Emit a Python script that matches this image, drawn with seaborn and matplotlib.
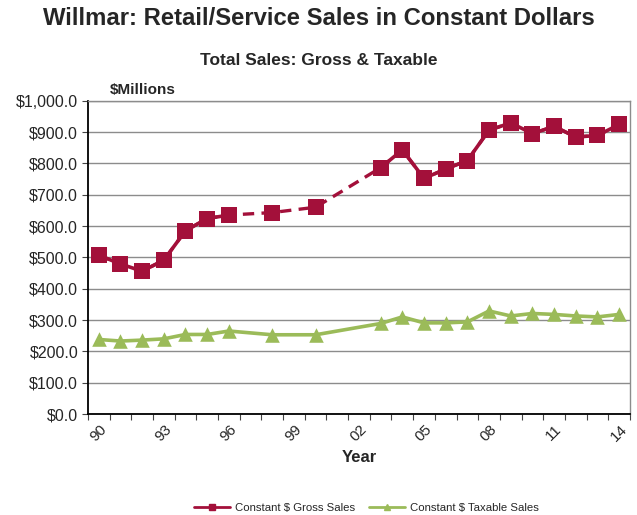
import numpy as np
import pandas as pd
import matplotlib
matplotlib.use("Agg")
import matplotlib.pyplot as plt
from matplotlib.ticker import FixedLocator, FuncFormatter
from matplotlib.lines import Line2D
import seaborn as sns

# Willmar retail/service sales in constant dollars ($ millions)
years = list(range(1990, 2015))
gross_sales = [507, 479, 456, 491, 585, 624, 635, np.nan, 643, np.nan, 660,
               np.nan, np.nan, 786, 843, 752, 782, 809, 906, 929, 895, 918,
               884, 889, 924]
taxable_sales = [238, 233, 236, 240, 254, 254, 265, np.nan, 253, np.nan, 253,
                 np.nan, np.nan, 289, 310, 291, 291, 294, 329, 313, 321, 318,
                 313, 310, 318]
tick_years = [1990, 1993, 1996, 1999, 2002, 2005, 2008, 2011, 2014]
tick_labels = ["90", "93", "96", "99", "02", "05", "08", "11", "14"]
series_names = ["Constant $ Gross Sales", "Constant $ Taxable Sales"]

GROSS_COLOR = "#A3103A"
TAX_COLOR = "#9BBB59"

sns.set_theme(style="white")
plt.rcParams["font.family"] = ["Liberation Sans", "DejaVu Sans"]

df = pd.DataFrame({"year": years, "gross": gross_sales, "taxable": taxable_sales})

fig = plt.figure(figsize=(6.37, 5.15), dpi=100)
ax = fig.add_axes([0.138, 0.196, 0.851, 0.6085])


def runs(frame, col):
    """Split a series into contiguous stretches of reported years."""
    valid = frame[col].notna()
    group = (valid != valid.shift()).cumsum()
    return [g for _, g in frame[valid].groupby(group[valid])]


observed = df.dropna(subset=["gross"])

# gross sales: dashed across years without data, solid where data is continuous
sns.lineplot(data=observed, x="year", y="gross", ax=ax, color=GROSS_COLOR,
             linewidth=2.4, linestyle=(0, (3.4, 2.2)), legend=False)
for seg in runs(df, "gross"):
    sns.lineplot(data=seg, x="year", y="gross", ax=ax, color=GROSS_COLOR,
                 linewidth=2.6, legend=False)
sns.scatterplot(data=observed, x="year", y="gross", ax=ax, color=GROSS_COLOR,
                marker="s", s=125, linewidth=0, zorder=4, legend=False)

# taxable sales: solid throughout
obs_tax = df.dropna(subset=["taxable"])
sns.lineplot(data=obs_tax, x="year", y="taxable", ax=ax, color=TAX_COLOR,
             linewidth=2.6, legend=False)
sns.scatterplot(data=obs_tax, x="year", y="taxable", ax=ax, color=TAX_COLOR,
                marker="^", s=110, linewidth=0, zorder=4, legend=False)

ax.set_xlim(1989.5, 2014.5)
ax.set_ylim(0, 1000)
ax.set_yticks(np.arange(0, 1001, 100))
ax.yaxis.set_major_formatter(FuncFormatter(lambda v, _: f"${v:,.1f}"))
ax.grid(axis="y", color="#8C8C8C", linewidth=1.0)
ax.set_axisbelow(True)

ax.xaxis.set_major_locator(FixedLocator(tick_years))
ax.set_xticklabels(tick_labels, rotation=45, ha="center", fontsize=11)
ax.xaxis.set_minor_locator(FixedLocator(np.arange(1989.5, 2015, 1)))
ax.tick_params(axis="x", which="major", length=0, pad=6)
ax.tick_params(axis="x", which="minor", length=4, width=0.8, color="#444444",
               direction="out", bottom=True)
ax.tick_params(axis="y", which="major", length=4, width=0.8, color="#444444",
               direction="out", left=True, labelsize=11.5, pad=3)

for side in ["left", "bottom"]:
    ax.spines[side].set_color("black")
    ax.spines[side].set_linewidth(1.3)
for side in ["top", "right"]:
    ax.spines[side].set_color("#8C8C8C")
    ax.spines[side].set_linewidth(1.0)

ax.set_xlabel("Year", fontsize=12, fontweight="bold", labelpad=4)
ax.set_ylabel("")

fig.text(0.5, 0.965, "Willmar: Retail/Service Sales in Constant Dollars",
         ha="center", va="center", fontsize=17.2, fontweight="bold")
fig.text(0.5, 0.883, "Total Sales: Gross & Taxable",
         ha="center", va="center", fontsize=12.5, fontweight="bold")
fig.text(0.173, 0.825, "$Millions", ha="left", va="center",
         fontsize=11, fontweight="bold")

handles = [
    Line2D([], [], color=GROSS_COLOR, marker="s", markersize=4, linewidth=2),
    Line2D([], [], color=TAX_COLOR, marker="^", markersize=4, linewidth=2),
]
fig.legend(handles, series_names, loc="center", bbox_to_anchor=(0.575, 0.014),
           ncol=2, frameon=False, fontsize=8.2, handlelength=3.2,
           columnspacing=1.2, handletextpad=0.4)

fig.savefig("out.png", dpi=100, facecolor="white")
